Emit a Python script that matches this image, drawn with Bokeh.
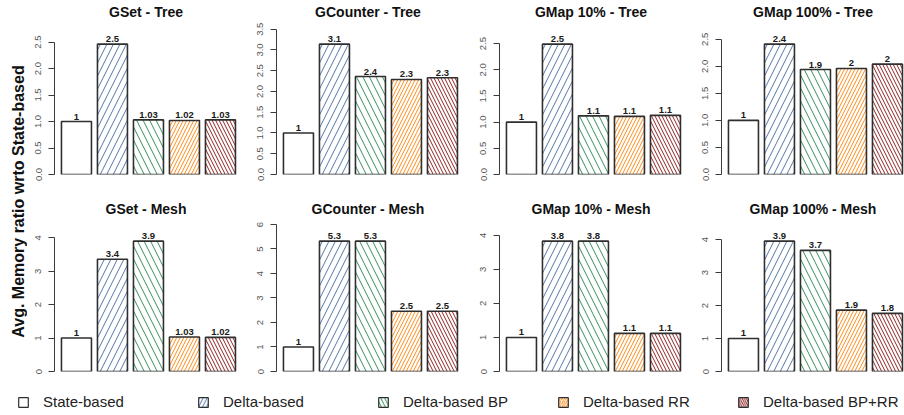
from bokeh.plotting import figure
from bokeh.layouts import row, column
from bokeh.models import Range1d, FixedTicker, ColumnDataSource, Label, Legend, LegendItem
from bokeh.core.properties import value
from bokeh.embed import file_html
from bokeh.resources import INLINE

# ---------------- data ----------------
series = ["State-based", "Delta-based", "Delta-based BP", "Delta-based RR", "Delta-based BP+RR"]

titles_tree = ["GSet - Tree", "GCounter - Tree", "GMap 10% - Tree", "GMap 100% - Tree"]
titles_mesh = ["GSet - Mesh", "GCounter - Mesh", "GMap 10% - Mesh", "GMap 100% - Mesh"]

gset_tree = [1.0, 2.46, 1.03, 1.02, 1.03]
gcounter_tree = [1.0, 3.14, 2.36, 2.29, 2.33]
gmap10_tree = [1.0, 2.49, 1.12, 1.11, 1.13]
gmap100_tree = [1.0, 2.41, 1.94, 1.96, 2.04]

gset_mesh = [1.0, 3.36, 3.90, 1.03, 1.02]
gcounter_mesh = [1.0, 5.32, 5.32, 2.46, 2.46]
gmap10_mesh = [1.0, 3.83, 3.83, 1.12, 1.12]
gmap100_mesh = [1.0, 3.95, 3.67, 1.86, 1.76]

gset_tree_labels = ["1", "2.5", "1.03", "1.02", "1.03"]
gcounter_tree_labels = ["1", "3.1", "2.4", "2.3", "2.3"]
gmap10_tree_labels = ["1", "2.5", "1.1", "1.1", "1.1"]
gmap100_tree_labels = ["1", "2.4", "1.9", "2", "2"]

gset_mesh_labels = ["1", "3.4", "3.9", "1.03", "1.02"]
gcounter_mesh_labels = ["1", "5.3", "5.3", "2.5", "2.5"]
gmap10_mesh_labels = ["1", "3.8", "3.8", "1.1", "1.1"]
gmap100_mesh_labels = ["1", "3.9", "3.7", "1.9", "1.8"]

ticks_tree = [[0.0, 0.5, 1.0, 1.5, 2.0, 2.5],
              [0.0, 0.5, 1.0, 1.5, 2.0, 2.5, 3.0, 3.5],
              [0.0, 0.5, 1.0, 1.5, 2.0, 2.5],
              [0.0, 0.5, 1.0, 1.5, 2.0, 2.5]]
tick_labels_tree = [["0.0", "0.5", "1.0", "1.5", "2.0", "2.5"],
                    ["0.0", "0.5", "1.0", "1.5", "2.0", "2.5", "3.0", "3.5"],
                    ["0.0", "0.5", "1.0", "1.5", "2.0", "2.5"],
                    ["0.0", "0.5", "1.0", "1.5", "2.0", "2.5"]]
ticks_mesh = [[0, 1, 2, 3, 4],
              [0, 1, 2, 3, 4, 5, 6],
              [0, 1, 2, 3, 4],
              [0, 1, 2, 3, 4]]
tick_labels_mesh = [["0", "1", "2", "3", "4"],
                    ["0", "1", "2", "3", "4", "5", "6"],
                    ["0", "1", "2", "3", "4"],
                    ["0", "1", "2", "3", "4"]]

y_label = "Avg. Memory ratio wrto State-based"

# ---------------- styles ----------------
FONT = "Liberation Sans"
hatch_patterns = [" ", "/", "\\", "/", "\\"]
hatch_colors = ["#ffffff", "#5577a8", "#358f5c", "#ff8c1a", "#8e2424"]
hatch_scales = [14, 13, 13, 7, 7]
BORDER = "#2f2f2f"

YLAB_W = 27
PANEL_W = [222, 223, 222, 210]
BL = 27
FRAME_W = 183
FRAME_H = 150
TOP_B = 24
ROW1_H = 197
ROW2_H = 182
LEG_H = 415 - ROW1_H - ROW2_H
TOTAL_W = YLAB_W + sum(PANEL_W)
HEAD = 1.143


def panel(title, vals, labels, ticks, tlabels, width, height, bottom_b):
    n = len(vals)
    xs = [0.7 + 1.2 * i for i in range(n)]
    src = ColumnDataSource(dict(x=xs, top=vals, lab=labels,
                                pat=hatch_patterns[:n], hc=hatch_colors[:n], hs=hatch_scales[:n]))
    p = figure(width=width, height=height, output_backend="svg", toolbar_location=None,
               x_range=Range1d(-0.032, -0.032 + FRAME_W / 30.0),
               y_range=Range1d(0, max(vals) * HEAD),
               x_axis_location=None, min_border_left=BL, min_border_right=width - BL - FRAME_W,
               min_border_top=TOP_B, min_border_bottom=bottom_b)
    p.outline_line_color = None
    p.xgrid.visible = False
    p.ygrid.visible = False
    p.background_fill_color = None
    p.border_fill_color = None
    p.vbar(x="x", top="top", bottom=0, width=1.0, source=src,
           fill_color="white", line_color=BORDER, line_width=1.6,
           hatch_pattern="pat", hatch_color="hc", hatch_scale="hs", hatch_weight=1.0)
    p.text(x="x", y="top", text="lab", source=src, text_align="center",
           text_baseline="alphabetic", y_offset=-5, text_font=value(FONT),
           text_font_size="9.5px", text_font_style="bold", text_color="#1a1a1a")
    ax = p.yaxis[0]
    ax.ticker = FixedTicker(ticks=ticks)
    ax.major_label_overrides = {t: l for t, l in zip(ticks, tlabels)}
    ax.bounds = (ticks[0], ticks[-1])
    ax.minor_tick_line_color = None
    ax.major_tick_in = 0
    ax.major_tick_out = 6
    ax.major_label_orientation = "vertical"
    ax.major_label_standoff = 7
    ax.major_label_text_font = FONT
    ax.major_label_text_font_size = "9.5px"
    ax.major_label_text_color = "#555555"
    ax.axis_line_color = "#3a3a3a"
    ax.major_tick_line_color = "#3a3a3a"
    p.title.text = title
    p.title.align = "center"
    p.title.vertical_align = "top"
    p.title.text_font = FONT
    p.title.text_font_size = "14px"
    p.title.text_font_style = "bold"
    p.title.text_color = "#111111"
    p.title.standoff = 7
    return p


tree_vals = [gset_tree, gcounter_tree, gmap10_tree, gmap100_tree]
tree_labs = [gset_tree_labels, gcounter_tree_labels, gmap10_tree_labels, gmap100_tree_labels]
mesh_vals = [gset_mesh, gcounter_mesh, gmap10_mesh, gmap100_mesh]
mesh_labs = [gset_mesh_labels, gcounter_mesh_labels, gmap10_mesh_labels, gmap100_mesh_labels]

row1 = [panel(titles_tree[i], tree_vals[i], tree_labs[i], ticks_tree[i], tick_labels_tree[i],
              PANEL_W[i], ROW1_H, ROW1_H - TOP_B - FRAME_H) for i in range(4)]
row2 = [panel(titles_mesh[i], mesh_vals[i], mesh_labs[i], ticks_mesh[i], tick_labels_mesh[i],
              PANEL_W[i], ROW2_H, ROW2_H - TOP_B - FRAME_H) for i in range(4)]

# y label strip
YL_H = ROW1_H + ROW2_H
yl = figure(width=YLAB_W, height=YL_H, output_backend="svg", toolbar_location=None,
            x_range=Range1d(0, YLAB_W), y_range=Range1d(0, YL_H),
            x_axis_location=None, y_axis_location=None,
            min_border=0, min_border_left=0, min_border_right=0, min_border_top=0, min_border_bottom=0)
yl.outline_line_color = None
yl.xgrid.visible = False
yl.ygrid.visible = False
yl.add_layout(Label(x=18, y=YL_H - 201, text=y_label, angle=1.5707963, text_align="center",
                    text_baseline="middle", text_font=FONT, text_font_size="16px",
                    text_font_style="bold", text_color="#111111"))

# legend strip
lg = figure(width=TOTAL_W, height=LEG_H, output_backend="svg", toolbar_location=None,
            x_range=Range1d(0, 1), y_range=Range1d(0, 1),
            x_axis_location=None, y_axis_location=None,
            min_border=0, min_border_left=0, min_border_right=0, min_border_top=0, min_border_bottom=0)
lg.outline_line_color = None
lg.xgrid.visible = False
lg.ygrid.visible = False
items = []
for i, name in enumerate(series):
    # off-canvas proxy glyph: only its style is used by the legend
    r = lg.vbar(x=[-50], top=[-40], bottom=[-45], width=1, fill_color="white",
                line_color=BORDER, line_width=1.2,
                hatch_pattern=hatch_patterns[i], hatch_color=hatch_colors[i],
                hatch_scale=hatch_scales[i] * 0.6, hatch_weight=1.0)
    items.append(LegendItem(label=name, renderers=[r]))
legend = Legend(items=items, orientation="horizontal", location=(17, 5),
                glyph_width=12, glyph_height=12, label_standoff=14, label_width=140, spacing=14,
                padding=0, margin=0, border_line_color=None, background_fill_alpha=0,
                label_text_font=FONT, label_text_font_size="15px", label_text_color="#222222")
lg.add_layout(legend, "center")

layout = column(row(yl, column(row(*row1), row(*row2))), lg)

open("out.html", "w").write(file_html(layout, INLINE))
